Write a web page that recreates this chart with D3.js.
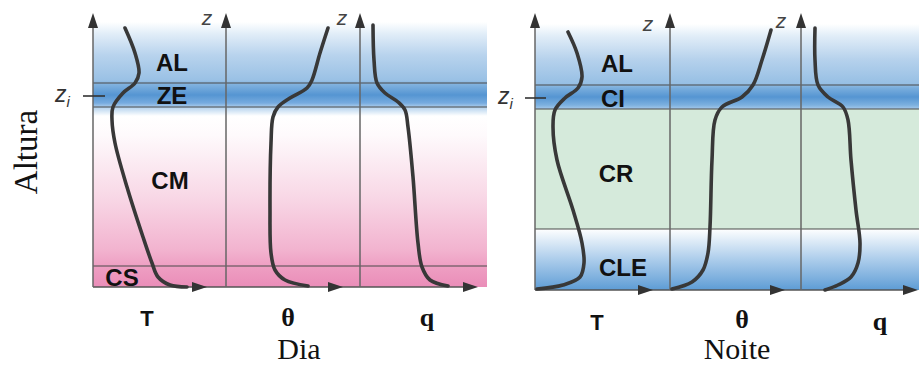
<!DOCTYPE html>
<html><head><meta charset="utf-8">
<script src="https://cdn.jsdelivr.net/npm/d3@7"></script>
<style>body{margin:0;background:#fff}svg{display:block}</style>
</head><body><svg id="c" width="919" height="367"></svg>
<script>
// ================= DATA =================
const periods = ["Dia", "Noite"];
const variableLabels = ["T", "θ", "q"];
const layerNamesDia = ["AL", "ZE", "CM", "CS"];
const layerNamesNoite = ["AL", "CI", "CR", "CLE"];
// heights (arbitrary units above ground) of layer boundaries
const layerTopsDia = [204, 180, 21];
const layerTopsNoite = [205, 181, 61];
const ziDia = 191;
const ziNoite = 192;
// profiles: [value, height]
const tempDia = [[32,259],[42,234],[46,214],[42,204],[30,194],[20,180],[19,167],[22,144],[34,100],[50,50],[59,24],[65,10],[77,2],[94,0]];
const thetaDia = [[102,259],[94,234],[86,207],[81,199],[64,189],[52,180],[47,170],[45,144],[44,77],[45,34],[49,17],[59,7],[82,1]];
const humDia = [[13,262],[14,227],[17,204],[25,194],[38,185],[45,177],[48,160],[53,110],[58,44],[62,20],[70,7],[88,1]];
const tempNoite = [[33,258],[42,237],[47,213],[43,202],[30,192],[20,180],[18,163],[22,130],[38,80],[47,47],[49,27],[45,13],[28,5],[2,1]];
const thetaNoite = [[101,260],[92,230],[83,205],[72,193],[52,183],[45,170],[42,130],[40,63],[38,37],[33,20],[22,8],[2,1]];
const humNoite = [[14,262],[14,230],[17,205],[27,193],[42,183],[47,170],[50,130],[55,80],[59,47],[57,27],[50,13],[37,5],[24,0]];

// ================= LAYOUT =================
const panels = [
  { name: periods[0], layers: layerNamesDia, tops: layerTopsDia, zi: ziDia,
    profiles: [tempDia, thetaDia, humDia],
    x0: 93, x1: 487, base: 287, top: 13,
    axes: [93, 226, 360], tips: [207, 343, 478],
    labelPos: [[172, 62], [172, 95], [170, 180], [122, 277]],
    varPos: [[147, 326], [288, 326], [427, 326]],
    zPos: [[207, 25], [342, 25]],
    ziText: [55, 102], ziTick: [83, 105],
    titleX: 299, grad: "gDia" },
  { name: periods[1], layers: layerNamesNoite, tops: layerTopsNoite, zi: ziNoite,
    profiles: [tempNoite, thetaNoite, humNoite],
    x0: 535, x1: 919, base: 290, top: 13,
    axes: [535, 670, 801], tips: [653, 785, 918],
    labelPos: [[617, 63], [613, 98], [616, 173], [623, 267]],
    varPos: [[597, 330], [742, 328], [880, 330]],
    zPos: [[648, 31], [781, 28]],
    ziText: [498, 104], ziTick: [525, 546],
    titleX: 737, grad: "gNoite" }
];

const svg = d3.select("#c");
const defs = svg.append("defs");

function addGrad(id, y1, y2, stops) {
  const g = defs.append("linearGradient").attr("id", id)
    .attr("gradientUnits", "userSpaceOnUse")
    .attr("x1", 0).attr("x2", 0).attr("y1", y1).attr("y2", y2);
  stops.forEach(([y, c]) => g.append("stop")
    .attr("offset", ((y - y1) / (y2 - y1)).toFixed(4)).attr("stop-color", c));
}
addGrad("gDia", 13, 287, [
  [13, "#ffffff"], [22, "#ffffff"], [34, "#e1edf8"], [55, "#b8d3ed"], [80, "#9ac1e5"],
  [85, "#7eb0de"], [95, "#5595d2"], [103, "#76abdf"], [108, "#bad6ef"], [116, "#ffffff"],
  [135, "#fefafc"], [200, "#f8d6e5"], [250, "#f2b3cf"], [266, "#ee9fc3"], [287, "#ea8db8"]
]);
addGrad("gNoite", 13, 290, [
  [13, "#ffffff"], [24, "#ffffff"], [36, "#e1edf8"], [60, "#b5d1ec"], [84, "#96bfe4"],
  [88, "#7aaedd"], [97, "#5595d2"], [105, "#7cb0df"], [109, "#a6c9ea"],
  [109, "#d5eadb"], [229, "#d5eadb"], [229, "#ffffff"], [233, "#f3f8fc"],
  [258, "#b0cfec"], [278, "#7eb0de"], [290, "#5d9cd5"]
]);

const line = d3.line().curve(d3.curveCatmullRom.alpha(0.5));

panels.forEach(p => {
  const ys = d3.scaleLinear().domain([0, p.base - p.top]).range([p.base, p.top]);
  const g = svg.append("g");

  // background
  g.append("rect").attr("x", p.x0).attr("y", p.top)
    .attr("width", p.x1 - p.x0).attr("height", p.base - p.top)
    .attr("fill", `url(#${p.grad})`);

  // layer boundaries
  g.selectAll("line.b").data(p.tops).join("line")
    .attr("x1", p.x0).attr("x2", p.x1)
    .attr("y1", d => ys(d)).attr("y2", d => ys(d))
    .attr("stroke", "#4a4a4a").attr("stroke-width", 1.2);

  // baseline
  g.append("line").attr("x1", p.x0).attr("x2", p.tips[2] - 10)
    .attr("y1", ys(0)).attr("y2", ys(0)).attr("stroke", "#555").attr("stroke-width", 1.5);

  // vertical axes
  p.axes.forEach(ax => {
    g.append("line").attr("x1", ax).attr("x2", ax)
      .attr("y1", ys(0)).attr("y2", p.top + 10)
      .attr("stroke", "#666").attr("stroke-width", 1.5);
    g.append("path").attr("d", `M${ax},${p.top} L${ax - 5},${p.top + 15} L${ax + 5},${p.top + 15} Z`)
      .attr("fill", "#333");
  });
  // x-axis arrowheads
  p.tips.forEach(t => {
    const yb = ys(0);
    g.append("path").attr("d", `M${t},${yb} L${t - 15},${yb - 5} L${t - 15},${yb + 5} Z`)
      .attr("fill", "#333");
  });

  // profiles
  p.profiles.forEach((prof, i) => {
    const xs = d3.scaleLinear().domain([0, 100]).range([p.axes[i], p.axes[i] + 100]);
    g.append("path")
      .attr("d", line(prof.map(d => [xs(d[0]), ys(d[1])])))
      .attr("fill", "none").attr("stroke", "#383838").attr("stroke-width", 3.6)
      .attr("stroke-linecap", "round").attr("stroke-linejoin", "round");
  });

  // layer labels
  p.layers.forEach((name, i) => {
    g.append("text").attr("x", p.labelPos[i][0]).attr("y", p.labelPos[i][1] + 8.5)
      .attr("text-anchor", "middle")
      .style("font", "bold 24px 'Liberation Sans', Arial, sans-serif")
      .attr("fill", "#111").text(name);
  });

  // variable labels
  variableLabels.forEach((v, i) => {
    const isT = i === 0;
    g.append("text").attr("x", p.varPos[i][0]).attr("y", p.varPos[i][1])
      .attr("text-anchor", "middle")
      .style("font", isT ? "bold 22px 'Liberation Sans', Arial, sans-serif"
                         : "bold 26px 'Liberation Serif', 'Times New Roman', serif")
      .attr("fill", "#111").text(v);
  });

  // z labels
  p.zPos.forEach(([x, y]) => {
    g.append("text").attr("x", x).attr("y", y).attr("text-anchor", "middle")
      .style("font", "italic 21px 'Liberation Sans', Arial, sans-serif")
      .attr("fill", "#444").text("z");
  });

  // z_i
  const zt = g.append("text").attr("x", p.ziText[0]).attr("y", p.ziText[1])
    .style("font", "italic 23px 'Liberation Sans', Arial, sans-serif").attr("fill", "#333");
  zt.append("tspan").text("z");
  zt.append("tspan").attr("dy", 5).style("font-size", "15px").text("i");
  g.append("line").attr("x1", p.ziTick[0]).attr("x2", p.ziTick[1])
    .attr("y1", ys(p.zi)).attr("y2", ys(p.zi)).attr("stroke", "#333").attr("stroke-width", 1.6);

  // panel title
  g.append("text").attr("x", p.titleX).attr("y", 359).attr("text-anchor", "middle")
    .style("font", "30px 'Liberation Serif', 'Times New Roman', serif")
    .attr("fill", "#111").text(p.name);
});

// y-axis title
svg.append("text").attr("transform", "translate(37,152) rotate(-90)")
  .attr("text-anchor", "middle")
  .style("font", "33px 'Liberation Serif', 'Times New Roman', serif")
  .attr("fill", "#111").text("Altura");
</script></body></html>
